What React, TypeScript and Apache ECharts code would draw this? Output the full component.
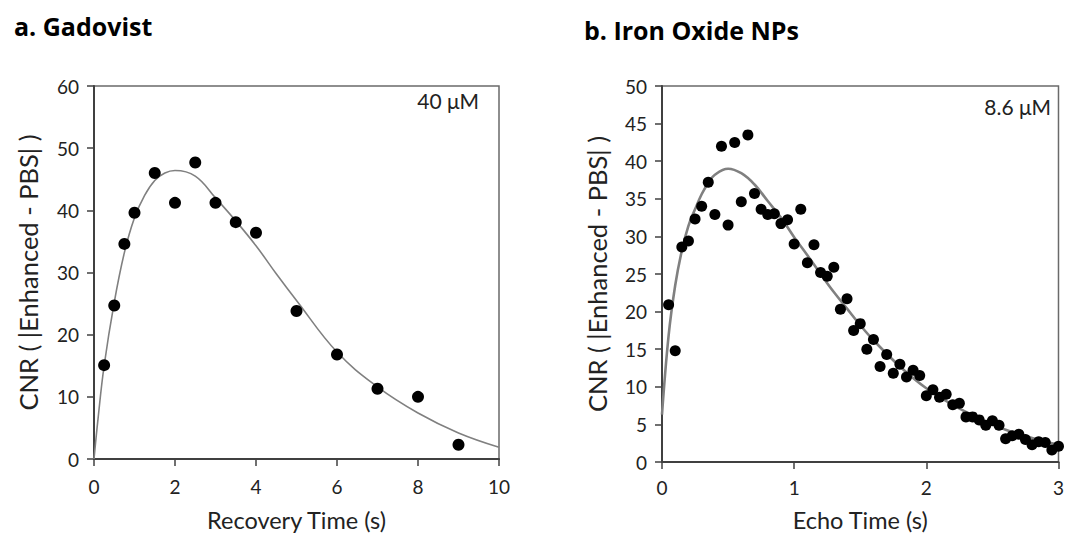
import React, { useEffect, useRef } from "react";
import * as echarts from "echarts";

// Panel a: Gadovist (40 µM)
const gadoTime = [0.25, 0.5, 0.75, 1, 1.5, 2, 2.5, 3, 3.5, 4, 5, 6, 7, 8, 9];
const gadoCnr = [15.1, 24.7, 34.6, 39.6, 46.0, 41.2, 47.7, 41.2, 38.1, 36.4, 23.8, 16.8, 11.3, 10.0, 2.3];
const gadoFitTime = [0, 0.1, 0.25, 0.5, 0.75, 1, 1.25, 1.5, 1.75, 2, 2.5, 3, 3.5, 4, 4.5, 5, 6, 7, 8, 9, 10];
const gadoFitCnr = [0, 6.5, 15.0, 25.2, 33.2, 38.8, 42.4, 44.8, 46.0, 46.4, 45.5, 42.0, 38.3, 34.3, 29.8, 25.5, 17.2, 11.6, 7.4, 4.2, 1.9];

// Panel b: Iron oxide NPs (8.6 µM)
const ironTime = [
  0.05, 0.1, 0.15, 0.2, 0.25, 0.3, 0.35, 0.4, 0.45, 0.5, 0.55, 0.6, 0.65, 0.7, 0.75, 0.8, 0.85, 0.9, 0.95, 1.0,
  1.05, 1.1, 1.15, 1.2, 1.25, 1.3, 1.35, 1.4, 1.45, 1.5, 1.55, 1.6, 1.65, 1.7, 1.75, 1.8, 1.85, 1.9, 1.95, 2.0,
  2.05, 2.1, 2.15, 2.2, 2.25, 2.3, 2.35, 2.4, 2.45, 2.5, 2.55, 2.6, 2.65, 2.7, 2.75, 2.8, 2.85, 2.9, 2.95, 3.0,
];
const ironCnr = [
  20.9, 14.8, 28.6, 29.4, 32.3, 34.0, 37.2, 32.9, 42.0, 31.5, 42.5, 34.6, 43.5, 35.7, 33.6, 32.9, 33.0, 31.7, 32.2, 29.0,
  33.6, 26.5, 28.9, 25.2, 24.7, 25.9, 20.3, 21.7, 17.5, 18.4, 15.0, 16.3, 12.7, 14.3, 11.8, 13.0, 11.3, 12.2, 11.5, 8.8,
  9.6, 8.6, 9.0, 7.6, 7.8, 6.0, 6.0, 5.6, 4.9, 5.5, 4.9, 3.1, 3.5, 3.7, 3.0, 2.3, 2.7, 2.6, 1.6, 2.1,
];
const ironFitTime = [0, 0.05, 0.1, 0.15, 0.2, 0.25, 0.3, 0.35, 0.4, 0.5, 0.6, 0.7, 0.8, 0.9, 1.0, 1.1, 1.2, 1.3, 1.4, 1.5, 1.6, 1.8, 2.0, 2.2, 2.4, 2.6, 2.8, 3.0];
const ironFitCnr = [6.3, 16.8, 23.5, 28.1, 31.4, 33.6, 35.6, 37.1, 38.2, 39.0, 38.4, 36.9, 34.7, 32.5, 29.9, 27.5, 25.0, 22.6, 20.4, 18.2, 16.2, 12.7, 9.8, 7.6, 5.8, 4.3, 3.2, 2.3];

const xTicksA = { min: 0, max: 10, interval: 2 };
const yTicksA = { min: 0, max: 60, interval: 10 };
const xTicksB = { min: 0, max: 3, interval: 1 };
const yTicksB = { min: 0, max: 50, interval: 5 };

const FONT = "Lato";
const AXIS_COLOR = "#404040";
const TEXT_COLOR = "#222";

const zip = (a: number[], b: number[]) => a.map((v, i) => [v, b[i]]);

export default function App() {
  const ref = useRef<HTMLDivElement>(null);
  useEffect(() => {
    if (!ref.current) return;
    const chart = echarts.init(ref.current, undefined, { renderer: "svg" });
    const axisCommon = {
      axisLine: { show: true, onZero: false, lineStyle: { color: AXIS_COLOR, width: 2 } },
      axisTick: { show: true, inside: false, length: 7, lineStyle: { color: AXIS_COLOR, width: 1.5 } },
      splitLine: { show: false },
      axisLabel: { color: TEXT_COLOR, fontFamily: FONT, fontSize: 19 },
      nameTextStyle: { color: TEXT_COLOR, fontFamily: FONT, fontSize: 23.5 },
      nameLocation: "middle" as const,
    };
    const yNameStyle = { color: TEXT_COLOR, fontFamily: FONT, fontSize: 25.5 };
    const titleStyle = { fontFamily: "Open Sans", fontWeight: "bold" as const, fontSize: 25, color: "#000" };
    chart.setOption({
      animation: false,
      backgroundColor: "#fff",
      title: [
        { text: "a. Gadovist", left: 14, top: 13, padding: 0, textStyle: titleStyle },
        { text: "b. Iron Oxide NPs", left: 584, top: 17, padding: 0, textStyle: titleStyle },
      ],
      graphic: [
        { type: "text", right: 588, top: 90, style: { text: "40 μM", fontFamily: FONT, fontSize: 21, fill: TEXT_COLOR } },
        { type: "text", right: 16, top: 96, style: { text: "8.6 μM", fontFamily: FONT, fontSize: 21, fill: TEXT_COLOR } },
      ],
      grid: [
        { left: 94, top: 86, width: 405, height: 375, show: true, borderColor: "#6a6a6a", borderWidth: 1.5 },
        { left: 662, top: 86, width: 399, height: 378, show: true, borderColor: "#6a6a6a", borderWidth: 1.5 },
      ],
      xAxis: [
        { ...axisCommon, type: "value", gridIndex: 0, ...xTicksA, name: "Recovery Time (s)", nameGap: 49, axisLabel: { ...axisCommon.axisLabel, margin: 18 } },
        { ...axisCommon, type: "value", gridIndex: 1, ...xTicksB, name: "Echo Time (s)", nameGap: 46, axisLabel: { ...axisCommon.axisLabel, margin: 16 } },
      ],
      yAxis: [
        { ...axisCommon, type: "value", gridIndex: 0, ...yTicksA, name: "CNR ( |Enhanced - PBS| )", nameGap: 53, nameTextStyle: yNameStyle, axisLabel: { ...axisCommon.axisLabel, margin: 15 } },
        { ...axisCommon, type: "value", gridIndex: 1, ...yTicksB, name: "CNR ( |Enhanced - PBS| )", nameGap: 52, nameTextStyle: yNameStyle, axisLabel: { ...axisCommon.axisLabel, margin: 15 } },
      ],
      series: [
        {
          type: "line", xAxisIndex: 0, yAxisIndex: 0, data: zip(gadoFitTime, gadoFitCnr),
          smooth: 0.4, showSymbol: false, lineStyle: { color: "#808080", width: 1.6 }, z: 2,
        },
        {
          type: "scatter", xAxisIndex: 0, yAxisIndex: 0, data: zip(gadoTime, gadoCnr),
          symbolSize: 12, itemStyle: { color: "#000", opacity: 1 }, z: 3,
        },
        {
          type: "line", xAxisIndex: 1, yAxisIndex: 1, data: zip(ironFitTime, ironFitCnr),
          smooth: 0.4, showSymbol: false, lineStyle: { color: "#808080", width: 2.6 }, z: 2,
        },
        {
          type: "scatter", xAxisIndex: 1, yAxisIndex: 1, data: zip(ironTime, ironCnr),
          symbolSize: 11, itemStyle: { color: "#000", opacity: 1 }, z: 3,
        },
      ],
    });
    return () => chart.dispose();
  }, []);
  return <div ref={ref} style={{ position: "fixed", left: 0, top: 0, width: 1067, height: 537 }} />;
}
